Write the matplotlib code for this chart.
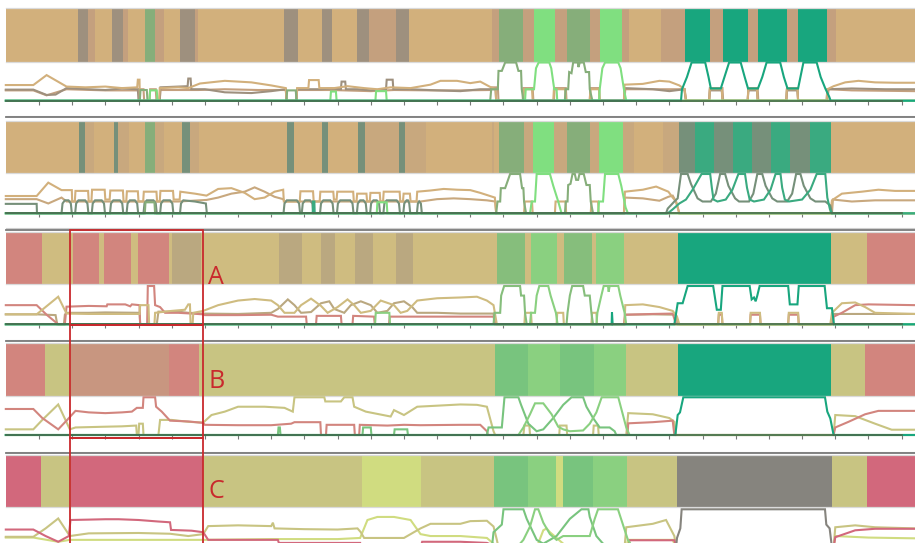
import matplotlib
matplotlib.use("Agg")
import matplotlib.pyplot as plt
import numpy as np
from matplotlib.lines import Line2D
from matplotlib.patches import Rectangle
from matplotlib.transforms import blended_transform_factory

# ---- state colours ----
COLORS = {
    'tan': '#d2b07c', 'gray': '#9e907e', 'brown': '#c4a07e', 'greengray': '#86ae7a',
    'lime': '#80df80', 'teal': '#18a67e', 'slate': '#76907a', 'sand': '#c8a87e',
    'jade': '#3aaa80', 'salmon': '#d2857e', 'khaki': '#cfbc80', 'dun': '#baa880',
    'green': '#86be7c', 'mint': '#8ad080', 'olive': '#c8c482', 'rose': '#c89680',
    'leaf': '#78c47e', 'pink': '#d2687c', 'chartreuse': '#d0dc80', 'graphite': '#86847e',
}

N_FRAMES = 274
TICKS = list(range(10, 271, 10))

# ---- segmentations (frame boundaries + state per segment) ----
p1_edges = [0, 21.8, 24.8, 26.9, 32.0, 35.3, 36.8, 42.0, 45.0, 47.7, 52.5, 57.0, 57.9, 83.8, 88.1,
            95.3, 98.3, 105.8, 109.5, 117.6, 121.5, 146.5, 148.6, 155.9, 159.2, 165.5, 169.1, 176.1,
            179.1, 185.7, 187.8, 197.5, 204.7, 212.2, 216.2, 223.7, 226.7, 235.4, 238.8, 247.5, 250.2, 274]
p1_states = ['tan', 'gray', 'brown', 'tan', 'gray', 'brown', 'tan', 'greengray', 'brown', 'tan', 'gray',
             'brown', 'tan', 'gray', 'tan', 'gray', 'tan', 'gray', 'brown', 'gray', 'tan', 'brown',
             'greengray', 'brown', 'lime', 'brown', 'greengray', 'brown', 'lime', 'brown', 'tan', 'brown',
             'teal', 'brown', 'teal', 'brown', 'teal', 'brown', 'teal', 'brown', 'tan']

p2_edges = [0, 22.1, 24.0, 26.5, 32.7, 33.9, 37.1, 41.9, 45.0, 47.6, 53.1, 55.6, 58.2, 84.7, 86.9, 95.4,
            97.1, 106.1, 108.3, 118.4, 120.4, 126.6, 146.6, 147.2, 148.6, 156.3, 158.9, 165.3, 169.0,
            176.0, 178.8, 185.9, 189.3, 198.2, 202.9, 207.7, 213.5, 219.1, 225.0, 230.5, 236.4, 242.4,
            248.7, 274]
p2_states = ['tan', 'slate', 'sand', 'tan', 'slate', 'sand', 'tan', 'greengray', 'sand', 'tan', 'slate',
             'sand', 'tan', 'slate', 'tan', 'slate', 'tan', 'slate', 'sand', 'slate', 'sand', 'tan', 'sand',
             'tan', 'greengray', 'sand', 'lime', 'sand', 'greengray', 'sand', 'lime', 'sand', 'tan', 'sand',
             'slate', 'jade', 'slate', 'jade', 'slate', 'jade', 'slate', 'jade', 'tan']

p3_edges = [0, 11.0, 20.2, 28.0, 29.5, 37.7, 39.9, 49.2, 50.2, 58.8, 82.2, 89.3, 95.1, 99.3, 105.2,
            110.8, 117.5, 122.8, 148.0, 156.5, 158.3, 166.1, 168.2, 176.7, 177.8, 186.3, 202.5, 248.7,
            259.5, 274]
p3_states = ['salmon', 'khaki', 'salmon', 'khaki', 'salmon', 'khaki', 'salmon', 'khaki', 'dun', 'khaki',
             'dun', 'khaki', 'dun', 'khaki', 'dun', 'khaki', 'dun', 'khaki', 'green', 'khaki', 'mint',
             'khaki', 'green', 'khaki', 'mint', 'khaki', 'teal', 'khaki', 'salmon']

p4_edges = [0, 11.7, 19.7, 49.2, 58.3, 147.4, 157.3, 167.0, 177.3, 186.9, 202.5, 248.7, 259.0, 274]
p4_states = ['salmon', 'olive', 'rose', 'salmon', 'olive', 'leaf', 'mint', 'leaf', 'mint', 'olive',
             'teal', 'olive', 'salmon']

p5_edges = [0, 10.7, 19.6, 59.5, 107.4, 125.1, 147.0, 157.3, 165.7, 167.8, 177.1, 187.3, 202.4, 248.9,
            259.6, 274]
p5_states = ['pink', 'olive', 'pink', 'olive', 'chartreuse', 'olive', 'leaf', 'mint', 'chartreuse',
             'leaf', 'mint', 'olive', 'graphite', 'olive', 'pink']

# ---- state probabilities (frame, probability) ----
p1_brown = [(0, .27), (8.3, .27), (12.3, .14), (18.3, .3), (30, .27), (39.8, .27), (40, .3), (41.5, .3), (41.7, 0),
            (43.3, 0), (43.5, .3), (45.2, .3), (45.4, 0), (46.4, 0), (46.6, .28), (58, .28), (66, .3), (76, .28),
            (84.4, .28), (84.6, 0), (87.6, 0), (87.8, .28), (98, .28), (110, .25), (117, .28), (128, .27),
            (137, .27), (146, .28), (146.5, .35), (148.3, .35), (148.5, 0), (155.8, 0), (156, .33), (158.8, .33),
            (159, 0), (165.2, 0), (165.4, .33), (168.8, .33), (169, 0), (176, 0), (176.2, .33), (178.8, .33),
            (179, 0), (186.5, 0), (186.7, .3), (197, .3), (204.5, .3), (205, 0), (212, 0), (212.2, .33),
            (216, .33), (216.2, 0), (223.6, 0), (223.8, .33), (226.6, .33), (226.8, 0), (235.3, 0), (235.5, .33),
            (238.6, .33), (238.8, 0), (247.6, 0), (248, .3), (255, .27), (274, .25)]
p1_gray = [(0, .29), (8.3, .29), (12.3, .15), (15, .16), (18.3, .33), (25, .3), (30, .28), (35, .32), (39.8, .3),
           (40, 0), (46.4, 0), (46.6, .35), (54.8, .38), (55, .58), (55.7, .58), (55.9, .3), (60, .3), (66, .22),
           (74, .2), (80, .25), (84.4, .3), (84.6, 0), (87.6, 0), (87.8, .3), (95, .3), (98, .32), (101, .3),
           (101.2, .5), (102.3, .5), (102.5, .3), (106, .3), (110, .27), (114.6, .3), (114.8, .55), (116.6, .55),
           (116.8, .3), (122, .3), (130, .27), (137, .25), (143, .3), (147.6, .3), (147.8, 0), (186.3, 0),
           (186.5, .33), (195, .3), (200, .25), (204.6, .3), (205, 0), (212, 0), (212.2, .27), (215.8, .27),
           (216, 0), (223.6, 0), (223.8, .27), (226.4, .27), (226.6, 0), (235.2, 0), (235.4, .27), (238.6, .27),
           (238.8, 0), (247.4, 0), (247.6, .3), (255, .32), (265, .3), (274, .3)]
p1_tan = [(0, .41), (8.3, .41), (12.3, .67), (18.3, .37), (24, .35), (30, .37), (35, .33), (39.6, .35), (39.8, .55),
          (40.3, .55), (40.4, 0), (46.2, 0), (46.4, .33), (52, .35), (55, .33), (58.5, .45), (66, .52), (74, .48),
          (80, .4), (84.4, .33), (84.6, 0), (87.6, 0), (87.8, .33), (91.2, .33), (91.4, .54), (94.3, .54),
          (94.5, .33), (99, .33), (103, .38), (108, .33), (112, .3), (116, .35), (122, .33), (128, .42),
          (131, .52), (136, .52), (140, .46), (143, .5), (146, .36), (147.6, .3), (147.8, 0), (156, 0),
          (156.2, .3), (158.6, .3), (158.8, 0), (165, 0), (165.2, .3), (168.6, .3), (168.8, 0), (176, 0),
          (176.2, .3), (178.8, .3), (179, 0), (186.3, 0), (186.5, .42), (192, .44), (197, .52), (200, .5),
          (203, .4), (204.6, .3), (205, 0), (212, 0), (212.2, .3), (215.8, .3), (216, 0), (223.6, 0), (223.8, .3),
          (226.4, .3), (226.6, 0), (235.2, 0), (235.4, .3), (238.6, .3), (238.8, 0), (247.4, 0), (247.6, .3),
          (249.5, .38), (253, .48), (257, .52), (262, .48), (268, .47), (274, .47)]
p1_greengray = [(0, 0), (40.4, 0), (40.6, .28), (42.5, .28), (42.7, 0), (84.6, 0), (84.8, .27), (87.4, .27),
                (87.6, 0), (146, 0), (146.3, .3), (148.3, .3), (148.5, .78), (149.5, .78), (150.5, 1), (153.8, 1),
                (154.5, .78), (155.3, .78), (155.5, .3), (156, 0), (168.5, 0), (168.7, .3), (169.5, .3),
                (169.8, .75), (170.5, .72), (171, 1), (172.4, 1), (172.6, .88), (173, 1), (174.2, 1), (174.8, .75),
                (175.8, .75), (176, .3), (176.8, 0), (274, 0)]
p1_lime = [(0, 0), (43.3, 0), (43.5, .27), (45.5, .27), (45.7, 0), (97.8, 0), (98, .24), (99.5, .24), (99.7, 0),
           (111.4, 0), (111.6, .25), (114.6, .25), (114.8, 0), (156.5, 0), (156.7, .3), (159.2, .3), (159.8, .85),
           (160.6, 1), (163.8, 1), (164.4, .85), (165.3, .3), (166, .3), (166.2, 0), (178.8, 0), (179, .3),
           (179.8, .85), (180.6, 1), (184.6, 1), (185.3, .85), (186.3, .3), (187, 0), (274, 0)]
p1_teal = [(0, 0), (203.5, 0), (203.8, .3), (205.3, .62), (206.7, 1), (210.8, 1), (211.8, .62), (212.5, .32),
           (215.5, .32), (216.6, .62), (218, 1), (221.5, 1), (222.7, .62), (223.7, .32), (226.7, .32), (228, .62),
           (229.3, 1), (233.4, 1), (234.5, .62), (235.6, .32), (238.8, .32), (239.5, .62), (240.4, 1), (244.4, 1),
           (245.6, .62), (247, .32), (248.2, .1), (248.6, 0), (274, 0)]

p2_sand = [(0, .36), (9.3, .36), (12.8, .25), (16.8, .4), (18.3, .3), (52, .3), (60.5, .34), (64, .4), (68, .5),
           (72, .55), (75, .66), (78, .55), (81, .42), (83.6, .36), (84, .3), (125, .3), (130, .36), (135, .38),
           (140, .36), (145, .33), (147.5, .3), (147.8, 0), (186.3, 0), (186.6, .4), (192, .38), (197, .32),
           (199.7, .42), (201, .45), (202, .3), (203, 0), (249, 0), (249.3, .35), (255, .3), (262, .33), (274, .33)]
p2_tan = [(0, .44), (9.3, .44), (12.8, .78), (16.8, .59), (19.9, .59), (20, .3), (20.8, .3), (21, .57), (24.8, .57),
          (25, .3), (25.8, .3), (26, .6), (29.8, .6), (30, .35), (31.3, .35), (31.5, .58), (35.3, .58), (35.5, .3),
          (36.3, .3), (36.5, .56), (39.8, .56), (40, .3), (41.4, .3), (41.6, .55), (45.4, .55), (45.6, .3),
          (46.4, .3), (46.6, .57), (50.4, .57), (50.6, .35), (52.4, .35), (52.6, .55), (57, .5), (60.5, .45),
          (64, .62), (68, .64), (72, .52), (75, .36), (78, .4), (81, .55), (83.6, .6), (83.8, .3), (88.6, .3),
          (88.8, .56), (92.6, .56), (92.8, .3), (94.6, .3), (94.8, .55), (98.7, .55), (98.9, .35), (99.7, .35),
          (99.9, .55), (104.7, .55), (104.9, .3), (105.7, .3), (105.9, .5), (108.7, .5), (108.9, .3), (109.7, .3),
          (109.9, .52), (112.7, .52), (112.9, .3), (113.7, .3), (113.9, .55), (118.7, .55), (118.9, .3),
          (119.7, .3), (119.9, .5), (121.8, .5), (122, .3), (123.8, .3), (124, .55), (128, .58), (132, .62),
          (136, .6), (140, .59), (143, .52), (147.4, .4), (147.8, 0), (156.2, 0), (156.4, .3), (158.6, .3),
          (158.8, 0), (165.5, 0), (165.7, .3), (168.7, .3), (168.9, 0), (176.3, 0), (176.5, .3), (178.5, .3),
          (178.7, 0), (186.3, 0), (186.6, .55), (192, .6), (196, .68), (199.7, .55), (201, .4), (202, .3),
          (203, 0), (248.5, 0), (249, .33), (252, .5), (258, .55), (263, .6), (268, .57), (274, .57)]
p2_slate = [(0, .24), (9.3, .24), (9.4, 0),
            (16.8, 0), (17.1, .25), (17.8, .33), (18.9, .33), (19.6, .25), (19.9, 0),
            (20.9, 0), (21.2, .25), (21.9, .33), (23.9, .33), (24.6, .25), (24.9, 0),
            (25.9, 0), (26.2, .25), (26.9, .33), (28.9, .33), (29.6, .25), (29.9, 0),
            (31.4, 0), (31.7, .25), (32.4, .33), (34.4, .33), (35.1, .25), (35.4, 0),
            (36.4, 0), (36.7, .25), (37.4, .33), (38.9, .33), (39.6, .25), (39.9, 0),
            (41.5, 0), (41.8, .25), (42.5, .33), (44.5, .33), (45.2, .25), (45.5, 0),
            (46.5, 0), (46.8, .25), (47.5, .33), (49.5, .33), (50.2, .25), (50.5, 0),
            (52.5, 0), (52.8, .25), (53.5, .33), (57, .3), (60.3, .25), (60.6, 0),
            (83.7, 0), (84, .25), (84.7, .33), (87.7, .33), (88.4, .25), (88.7, 0),
            (89.2, 0), (89.5, .25), (90.2, .33), (91.7, .33), (92.4, .25), (92.7, 0),
            (94.7, 0), (95, .25), (95.7, .33), (97.8, .33), (98.5, .25), (98.8, 0),
            (99.8, 0), (100.1, .25), (100.8, .33), (103.8, .33), (104.5, .25), (104.8, 0),
            (105.8, 0), (106.1, .25), (106.8, .33), (107.8, .33), (108.5, .25), (108.8, 0),
            (109.8, 0), (110.1, .25), (110.8, .33), (111.8, .33), (112.5, .25), (112.8, 0),
            (113.8, 0), (114.1, .25), (114.8, .33), (117.8, .33), (118.5, .25), (118.8, 0),
            (119.8, 0), (120.1, .25), (120.8, .33), (121.2, .33), (121.6, .25), (121.9, 0),
            (123.9, 0), (124.2, .25), (124.6, .3), (125.1, .25), (125.4, 0),
            (199, 0), (199.5, .12), (201.5, .3), (202.5, .38), (203.5, 1), (205.5, 1), (206.5, .75), (208.5, .38),
            (210, .3), (212.5, .3), (214, .5), (215.3, 1), (216.8, 1), (217.8, .7), (219.8, .38), (221, .3),
            (224, .3), (225.3, .5), (226.5, 1), (228, 1), (229, .7), (231, .38), (232.5, .3), (235.5, .3),
            (237, .5), (238.2, 1), (239.5, 1), (240.5, .7), (242.5, .38), (244, .3), (247, .3), (248.5, .2),
            (249, 0), (274, 0)]
p2_greengray = [(0, 0), (41.9, 0), (42.1, .28), (44.8, .28), (45, 0), (147.8, 0), (148.2, .3), (149, .3),
                (149.2, .64), (150.5, .64), (152, 1), (155, 1), (155.6, .64), (156, .64), (156.2, .3), (156.8, 0),
                (168.5, 0), (168.8, .3), (169.3, .3), (169.5, .72), (170.2, .75), (170.8, 1), (171.5, 1),
                (171.9, .85), (172.5, .85), (172.9, 1), (174.2, 1), (175, .72), (176, .72), (176.3, .3), (177, 0),
                (274, 0)]
p2_lime = [(0, 0), (111.8, 0), (112, .28), (114.8, .28), (115, 0), (158, 0), (158.5, .3), (159.5, .3), (160, 1),
           (164, 1), (165, .7), (166.5, .3), (167.5, 0), (178.5, 0), (178.8, .3), (180, .3), (180.6, 1),
           (184.6, 1), (185.5, .7), (186.8, .15), (187.5, 0), (274, 0)]
p2_jade = [(0, 0), (92.5, 0), (92.6, .3), (93, .3), (93.1, 0), (199.5, 0), (201, .1), (203, .25), (205, .35),
           (207, .6), (209.7, 1), (212.3, 1), (212.8, .65), (213.3, .35), (214.5, .3), (217, .35), (219, .6),
           (220.8, 1), (222.8, 1), (223.4, .65), (224.2, .35), (225.5, .3), (228.5, .35), (230.5, .6), (232, 1),
           (233.5, 1), (234, .65), (234.8, .35), (236, .3), (240, .35), (242.5, .6), (244.4, 1), (247, 1),
           (247.6, .4), (248.4, .1), (249, 0), (274, 0)]

p3_dun = [(0, .26), (9.3, .26), (15, .24), (15.5, 0), (17.5, 0), (17.8, .25), (18.3, .3), (25, .3), (30, .31),
          (40.3, .3), (40.5, 0), (45.5, 0), (46, .33), (52, .33), (55, .3), (59.5, .28), (70, .27), (80, .3),
          (82, .4), (85, .65), (87, .5), (89, .3), (92, .32), (95, .55), (97.5, .6), (99, .4), (102, .3),
          (104, .5), (107, .6), (110, .5), (112, .3), (115, .35), (117, .55), (120, .6), (122.5, .45), (124, .3),
          (130, .3), (137, .28), (145, .28), (147, .28), (147.5, 0), (186.5, 0), (186.7, .25), (195, .26),
          (202, .25), (202.5, 0), (249, 0), (249.3, .27), (274, .27)]
p3_salmon = [(0, .5), (9.3, .5), (12.3, .25), (15.8, 0), (17.8, 0), (18.3, .46), (25, .48), (30.4, .47),
             (30.6, .52), (36, .52), (37.5, .47), (38, .52), (40.3, .5), (40.5, 0), (42.6, 0), (42.8, 1), (44.7, 1),
             (45, .5), (46.5, .45), (48, .3), (52, .3), (56, .28), (59.5, .26), (60, .24), (70, .24), (80, .25),
             (82, .2), (90.5, .2), (90.7, 0), (93.5, 0), (93.7, .22), (101, .22), (101.2, 0), (104.5, 0),
             (104.7, .22), (111, .2), (111.2, 0), (115.5, 0), (115.7, .2), (123, .2), (137, .2), (147, .2),
             (147.5, 0), (186.3, 0), (186.6, .25), (195, .27), (201, .28), (202, 0), (214.7, 0), (214.9, .25),
             (215.8, .25), (216, 0), (224.3, 0), (224.5, .25), (227.3, .25), (227.5, 0), (235.8, 0), (236, .25),
             (238.8, .25), (239, 0), (249.3, 0), (249.5, .2), (252, .3), (256, .5), (260, .52), (274, .5)]
p3_khaki = [(0, .26), (9.3, .26), (15.8, .72), (18.3, .28), (25, .27), (30, .27), (40.3, .27), (40.5, .5),
            (43, .5), (43.2, 0), (44.8, 0), (45, .3), (50, .35), (54, .38), (55, .52), (55.5, .52), (55.7, 0),
            (56.3, 0), (56.5, .3), (59.5, .35), (64, .5), (70, .62), (75, .66), (80, .62), (82, .5), (84, .3),
            (87, .3), (89, .5), (92, .67), (95, .48), (97, .3), (100, .45), (103, .65), (105, .5), (107, .3),
            (110, .35), (113, .62), (117, .5), (119, .3), (121, .35), (124, .62), (130, .68), (137, .7),
            (142, .72), (145, .62), (147, .5), (148, 0), (156.3, 0), (156.5, .3), (158.3, .3), (158.5, 0),
            (166, 0), (166.2, .3), (168, .3), (168.2, 0), (176.5, 0), (176.7, .3), (178, .3), (178.2, 0),
            (186.5, 0), (186.7, .5), (192, .52), (197, .45), (201, .35), (202.3, .2), (203, 0), (214.7, 0),
            (214.9, .3), (215.8, .3), (216, 0), (224.3, 0), (224.5, .3), (227.3, .3), (227.5, 0), (235.8, 0),
            (236, .3), (238.8, .3), (239, 0), (248.5, 0), (249, .3), (252, .55), (256, .57), (259, .45),
            (262, .3), (274, .27)]
p3_green = [(0, 0), (147, 0), (147.3, .3), (149, .3), (149.3, .75), (150.2, 1), (155, 1), (155.3, .75),
            (156.2, .75), (156.5, .3), (157, 0), (169, 0), (169.3, .3), (170, .75), (170.7, 1), (174, 1),
            (174.5, .75), (176, .75), (176.5, .3), (177, 0), (274, 0)]
p3_mint = [(0, 0), (111.3, 0), (111.5, .3), (115.6, .3), (115.8, 0), (158, 0), (158.3, .3), (159.5, .3),
           (160, .75), (160.8, 1), (163.5, 1), (164.2, .75), (165.8, .3), (166.3, 0), (178, 0), (178.3, .3),
           (179.5, .75), (180.2, 1), (181.5, 1), (181.7, .85), (182, 1), (184.6, 1), (185.2, .75), (186.5, .3),
           (187, 0), (274, 0)]
p3_teal = [(0, 0), (182.6, 0), (182.7, .31), (182.9, 0), (201.5, 0), (202.5, .55), (204, .55), (205.5, 1),
           (213.2, 1), (214.3, .38), (215.5, .38), (216, 1), (224.2, 1), (224.8, .65), (225.5, .7), (226, .6),
           (226.5, .75), (227.2, 1), (235.8, 1), (236.3, .52), (238.6, .52), (239, 1), (246.8, 1), (247.5, .42),
           (249, .42), (249.6, 0), (274, 0)]

p4_olive = [(0, .15), (8.3, .15), (11, .4), (15.8, .81), (19.3, .15), (21, .2), (30, .22), (35, .23), (39.3, .25),
            (39.5, 0), (40, 0), (40.2, .3), (41.3, .3), (41.5, 0), (46, 0), (46.5, .4), (50, .4), (55, .35),
            (59.5, .33), (62, .53), (66, .62), (70, .75), (78, .75), (84, .72), (86.5, .62), (87, 1), (96, 1),
            (96.3, .89), (101, .89), (102, 1), (104.5, 1), (105, .75), (108.5, .62), (116, .49), (117, .66),
            (120, .53), (124, .75), (137, .81), (142, .8), (145, .75), (147, .1), (147.5, 0), (156, 0),
            (156.3, .25), (157.8, .25), (158, 0), (166.8, 0), (167, .25), (169, .25), (169.2, 0), (177, 0),
            (177.2, .25), (178.5, .25), (178.7, 0), (187, 0), (187.6, .58), (195, .55), (200, .45), (201.5, .35),
            (202, 0), (249.5, 0), (250, .53), (256, .5), (262, .3), (267, .14), (274, .14)]
p4_salmon = [(0, .69), (8.3, .69), (11, .45), (15.8, .15), (18.5, .4), (21, .64), (25, .6), (30, .58), (35, .6),
             (38, .62), (39.5, .72), (41.3, .72), (41.5, 1), (45, 1), (45.3, .75), (47, .62), (49.5, .38),
             (55, .36), (59.5, .32), (60, .27), (70, .26), (80, .26), (86, .3), (87, .34), (94.8, .34), (95, 0),
             (96.5, 0), (96.7, .27), (105, .27), (105.2, 0), (106.5, 0), (106.7, .27), (115, .25), (120, .27),
             (125, .26), (137, .27), (143, .27), (145, .1), (145.3, 0), (187.4, 0), (187.6, .31), (195, .34),
             (201, .38), (201.5, 0), (249.5, 0), (250, .2), (254, .35), (259, .55), (263, .64), (274, .64)]
p4_leaf = [(0, 0), (82, 0), (82.2, .2), (82.6, .2), (82.8, 0), (107.5, 0), (107.7, .2), (110, .2), (110.2, 0),
           (117, 0), (117.2, .15), (121, .15), (121.2, 0), (145, 0), (145.5, .2), (149.5, .2), (150.3, 1),
           (154.5, 1), (155.3, .8), (157.5, .3), (160, .1), (162, .15), (165, .45), (168, .8), (170.5, 1),
           (174, 1), (175, .75), (177, .45), (179, .2), (182, .2), (183.5, .1), (184, 0), (274, 0)]
p4_mint = [(0, 0), (154.5, 0), (156, .2), (158, .55), (159.5, .84), (162, .84), (164.5, .55), (166.5, .22),
           (168, .15), (170, .1), (174, .12), (176, .3), (178, .6), (179.6, 1), (184.6, 1), (185.5, .7),
           (187, .2), (188, 0), (274, 0)]
p4_teal = [(0, 0), (201.8, 0), (202.5, .53), (203.2, .6), (204.2, 1), (246.9, 1), (247.6, .62), (248.5, .44),
           (249.5, 0), (274, 0)]

p5_chartreuse = [(0, .26), (8.3, .26), (15.8, .15), (19.3, .2), (30, .2), (49.5, .2), (60, .2), (80, .22),
                 (100, .22), (106.8, .25), (109, .72), (112, .8), (117, .8), (122, .72), (125, .35), (128, .3),
                 (137, .3), (145, .25), (147, .1), (147.5, 0), (160, 0), (162, .45), (163, .5), (164, .4),
                 (168, .1), (169, 0), (187, 0), (187.5, .2), (201, .2), (202, 0), (249.5, 0), (250, .3),
                 (260, .26), (274, .24)]
p5_olive = [(0, .28), (8.3, .28), (12, .5), (15.8, .76), (19.3, .3), (25, .37), (40, .38), (49.5, .36), (55, .3),
            (59.5, .35), (61, .56), (70, .58), (80, .56), (80.5, .65), (81, .5), (90, .48), (100, .47), (106, .5),
            (107, .4), (108, .25), (120, .25), (125, .5), (128, .62), (137, .62), (140, .69), (145, .7),
            (147, .55), (148, .2), (148.5, 0), (186.5, 0), (187, .53), (195, .62), (199, .72), (201.5, .3),
            (202, 0), (249.5, 0), (250, .53), (256, .58), (262, .53), (274, .5)]
p5_pink = [(0, .47), (8.3, .47), (12, .3), (15.8, .15), (19, .3), (19.5, .72), (25, .73), (30, .74), (34, .74),
           (40, .72), (46, .68), (49.5, .66), (49.8, .46), (56, .44), (59.5, .4), (61, .2), (70, .2), (82, .2),
           (82.3, .12), (106.8, .12), (107, 0), (125, 0), (125.5, .15), (137, .15), (145, .12), (147, .05),
           (147.2, 0), (187.5, 0), (188, .19), (201.5, .19), (202, 0), (249.5, 0), (250, .27), (256, .45),
           (262, .49), (274, .49)]
p5_leaf = [(0, 0), (146.5, 0), (147, .4), (149.5, .6), (150, 1), (156, 1), (157, .75), (160, .2), (162, .1),
           (166, .3), (170, .75), (173.5, 1), (175.6, 1), (176, .8), (178, .3), (180, .1), (183, 0), (274, 0)]
p5_mint = [(0, 0), (154, 0), (156, .2), (158, .55), (159.5, 1), (160.5, 1), (162, .65), (164, .35), (166, .2),
           (168, .3), (176, .3), (177.5, .75), (178.5, 1), (184.5, 1), (186, .6), (187.5, .2), (189, 0), (274, 0)]
p5_graphite = [(0, 0), (202, 0), (202.3, .25), (203.3, .5), (203.7, 1), (246.9, 1), (247.3, .6), (248.3, .5),
               (249, 0), (274, 0)]

panels = [
    (p1_edges, p1_states, [('brown', p1_brown), ('gray', p1_gray), ('tan', p1_tan),
                           ('greengray', p1_greengray), ('lime', p1_lime), ('teal', p1_teal)]),
    (p2_edges, p2_states, [('sand', p2_sand), ('tan', p2_tan), ('slate', p2_slate),
                           ('greengray', p2_greengray), ('lime', p2_lime), ('jade', p2_jade)]),
    (p3_edges, p3_states, [('dun', p3_dun), ('salmon', p3_salmon), ('khaki', p3_khaki),
                           ('green', p3_green), ('mint', p3_mint), ('teal', p3_teal)]),
    (p4_edges, p4_states, [('olive', p4_olive), ('salmon', p4_salmon), ('leaf', p4_leaf),
                           ('mint', p4_mint), ('teal', p4_teal)]),
    (p5_edges, p5_states, [('chartreuse', p5_chartreuse), ('olive', p5_olive), ('pink', p5_pink),
                           ('leaf', p5_leaf), ('mint', p5_mint), ('graphite', p5_graphite)]),
]

# ---- layout (pixel rows of each panel) ----
W, H = 915, 543
X0 = 5.8
XW = 909.1
band_rows = [(8.3, 61.7), (120.7, 172.7), (231.7, 284.3), (343.3, 395.7), (455.0, 507.3)]
line_rows = [(62.5, 100.7), (174.0, 213.3), (286.0, 324.3), (397.3, 435.0), (509.3, 547.5)]
separators = [117.4, 229.6, 341.1, 453.4]

fig = plt.figure(figsize=(W / 100, H / 100), dpi=100)
fig.patch.set_facecolor('white')


def add_ax(top, bottom):
    return fig.add_axes([X0 / W, 1 - bottom / H, XW / W, (bottom - top) / H])


band_axes = []
for (edges, states, lines), (bt, bb), (lt, lb) in zip(panels, band_rows, line_rows):
    bax = add_ax(bt, bb)
    starts = edges[:-1]
    widths = np.diff(edges)
    bax.broken_barh(list(zip(starts, widths)), (0, 1),
                    facecolors=[COLORS[s] for s in states], edgecolor='none', linewidth=0)
    bax.set_xlim(0, N_FRAMES)
    bax.set_ylim(0, 1)
    bax.axis('off')
    for yy in (0, 1):
        bax.axhline(yy, color='#dadada', lw=0.9, clip_on=False, zorder=3)
    band_axes.append(bax)

    lax = add_ax(lt, lb)
    lax.patch.set_alpha(0)
    for state, pts in lines:
        xs, ys = zip(*pts)
        lax.plot(xs, ys, color=COLORS[state], lw=1.5, clip_on=False, zorder=2,
                 solid_joinstyle='miter')
    lax.set_xlim(0, N_FRAMES)
    lax.set_ylim(0, 1)
    for side in ('top', 'right', 'left'):
        lax.spines[side].set_visible(False)
    lax.spines['bottom'].set_bounds(0, 270)
    lax.spines['bottom'].set_color('#4b6a4b')
    lax.spines['bottom'].set_linewidth(1.2)
    lax.spines['bottom'].set_zorder(2.5)
    lax.set_xticks(TICKS)
    lax.set_xticklabels([])
    lax.set_yticks([])
    lax.tick_params(axis='x', direction='out', length=3, width=0.8, color='#777777')

# panel separators
for y in separators:
    fig.add_artist(Line2D([X0 / W, 1], [1 - (y - 1.6) / H] * 2, transform=fig.transFigure,
                          color='#cfcfcf', lw=0.8))
    fig.add_artist(Line2D([X0 / W, 1], [1 - y / H] * 2, transform=fig.transFigure,
                          color='#7a7a7a', lw=1.3))

# highlighted regions A, B, C
red = '#c9292d'
trans = blended_transform_factory(band_axes[2].transData, fig.transFigure)
regions = [('A', 230.3, 325.0, 277.5), ('B', 325.0, 437.7, 381.5), ('C', 437.7, 560.0, 492.0)]
for label, top, bottom, ytxt in regions:
    rect = Rectangle((19.3, 1 - bottom / H), 40.2, (bottom - top) / H, transform=trans,
                     fill=False, edgecolor=red, lw=1.3, clip_on=False, zorder=10)
    fig.add_artist(rect)
    fig.text(61.0, 1 - ytxt / H, label, transform=trans, color=red, fontsize=18,
             family=['Open Sans', 'DejaVu Sans'], ha='left', va='center', zorder=11)

fig.savefig('out.png', dpi=100, facecolor='white')
